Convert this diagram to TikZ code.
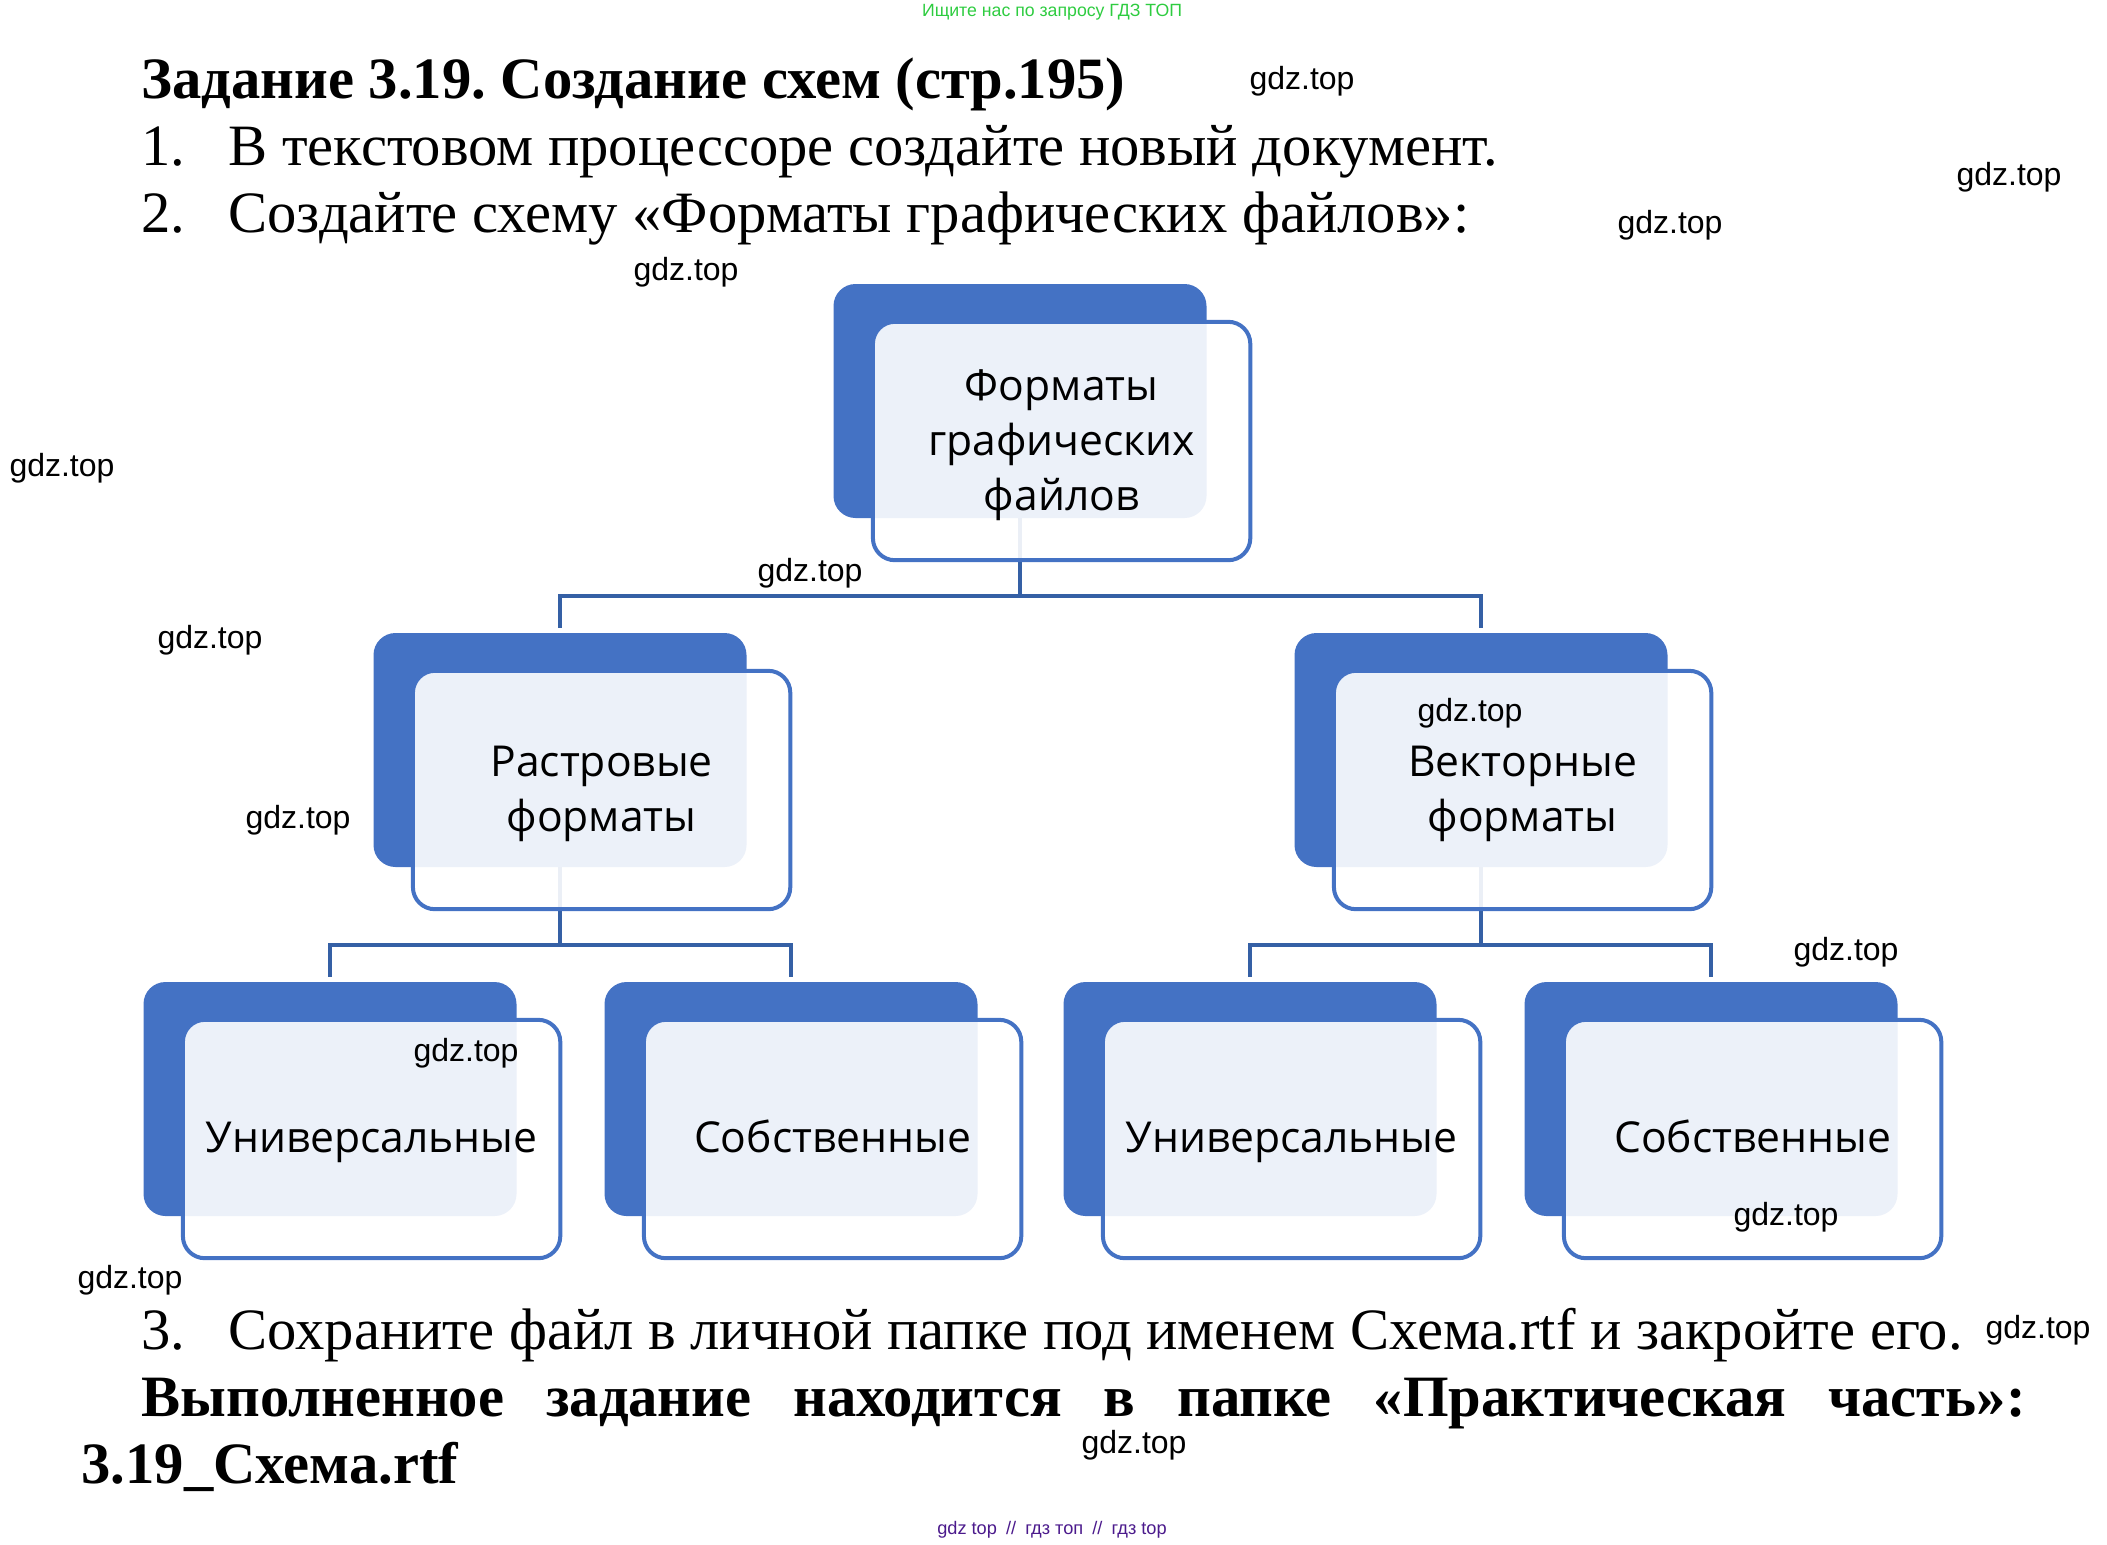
\documentclass[tikz,border=0pt]{standalone}
\usepackage{fontspec}
\setmainfont{Liberation Serif}
\newfontfamily\boxfont{Open Sans}
\newfontfamily\markfont{Liberation Sans}
\usetikzlibrary{positioning}
\definecolor{boxblue}{HTML}{4472C4}
\definecolor{linkblue}{HTML}{3560A5}
\definecolor{adgreen}{HTML}{2ECC40}
\definecolor{adviolet}{HTML}{4B1A8C}
\newcommand{\boxtopstrut}{\rule{0pt}{21.85pt}}
\newcommand{\boxendstrut}{\rule[-8.25pt]{0pt}{8.25pt}}
\newcommand{\boxfirststrut}{\rule{0pt}{19.5pt}}
\frenchspacing

\begin{document}
\begin{tikzpicture}[x=0.5pt, y=-0.5pt, semithick]
	\tikzstyle{backbox}=[fill=boxblue,rounded corners=11pt,minimum width=186.5pt,minimum height=117pt,inner sep=0pt,outer sep=0pt]
	\tikzstyle{frontbox}=[draw=boxblue,line width=2pt,fill=white,fill opacity=0.9,text opacity=1,rounded corners=11pt,minimum width=188.7pt,minimum height=119.2pt,inner sep=0pt,outer sep=0pt,xshift=20.8pt,yshift=-20pt,align=center,font=\boxfont\fontsize{21.3}{27.5}\selectfont]
	\tikzstyle{frontsingle}=[frontbox,execute at begin node=\boxtopstrut,execute at end node=\boxendstrut]
	\tikzstyle{branch}=[draw=linkblue,line width=1.8pt,to path={(\tikztostart.south) -- ++(0,78) -| ([yshift=2.5pt]\tikztotarget.north)}]
	\tikzstyle{tasktext}=[anchor=base west,inner sep=0pt,font=\fontsize{29.3}{34}\selectfont]
	\tikzstyle{taskbold}=[tasktext,font=\bfseries\fontsize{29.3}{34}\selectfont]
	\tikzstyle{gdzmark}=[inner sep=0pt,yshift=-1pt,font=\markfont\fontsize{16}{18}\selectfont]
	\useasboundingbox (0,0) rectangle (2107,1544);
	% text above the scheme
	\node[inner sep=0pt,text=adgreen,font=\markfont\fontsize{8.85}{10}\selectfont] (adtop) at (1052,12) {Ищите нас по запросу ГДЗ ТОП};
	\node[taskbold] (title) at (141,98) {Задание 3.19. Создание схем (стр.195)};
	\node[tasktext] (num1) at (141,165) {1.};
	\node[tasktext] (line1) at (228,165) {В текстовом процессоре создайте новый документ.};
	\node[tasktext] (num2) at (141,232) {2.};
	\node[tasktext] (line2) at (228,232) {Создайте схему «Форматы графических файлов»:};
	% blue boxes
	\node[backbox] (Ab) at (1020,401) {};
	\node[backbox] (Bb) at (560,750) {};
	\node[backbox] (Cb) at (1481,750) {};
	\node[backbox] (Db) at (330,1099) {};
	\node[backbox] (Eb) at (791,1099) {};
	\node[backbox] (Fb) at (1250,1099) {};
	\node[backbox] (Gb) at (1711,1099) {};
	% connectors
	\path
	(Ab) edge[branch] (Bb)
	     edge[branch] (Cb)
	(Bb) edge[branch] (Db)
	     edge[branch] (Eb)
	(Cb) edge[branch] (Fb)
	     edge[branch] (Gb);
	% outlined boxes with the labels
	\node[frontbox] (A) at (Ab) {\boxfirststrut Форматы\\графических\\файлов};
	\node[frontbox] (B) at (Bb) {\boxfirststrut Растровые\\форматы};
	\node[frontbox] (C) at (Cb) {\boxfirststrut Векторные\\форматы};
	\node[frontsingle] (D) at (Db) {Универсальные};
	\node[frontsingle] (E) at (Eb) {Собственные};
	\node[frontsingle] (F) at (Fb) {Универсальные};
	\node[frontsingle] (G) at (Gb) {Собственные};
	% text below the scheme
	\node[tasktext] (num3) at (141,1349) {3.};
	\node[tasktext] (line3) at (228,1349) {Сохраните файл в личной папке под именем Схема.rtf и закройте его.};
	\node[taskbold] (done1) at (141,1416) {\makebox[942pt][s]{Выполненное задание находится в папке «Практическая часть»:}};
	\node[taskbold] (done2) at (81,1483) {3.19\_Схема.rtf};
	\node[inner sep=0pt,text=adviolet,font=\markfont\fontsize{9.1}{10}\selectfont] (adbottom) at (1052,1530) {gdz top\enspace//\enspace гдз топ\enspace//\enspace гдз top};
	% scattered marks
	\node[gdzmark] (m1) at (1302,79) {gdz.top};
	\node[gdzmark] (m2) at (2009,175) {gdz.top};
	\node[gdzmark] (m3) at (1670,223) {gdz.top};
	\node[gdzmark] (m4) at (686,270) {gdz.top};
	\node[gdzmark] (m5) at (62,466) {gdz.top};
	\node[gdzmark] (m6) at (810,571) {gdz.top};
	\node[gdzmark] (m7) at (210,638) {gdz.top};
	\node[gdzmark] (m8) at (298,818) {gdz.top};
	\node[gdzmark] (m9) at (1470,711) {gdz.top};
	\node[gdzmark] (m10) at (1846,950) {gdz.top};
	\node[gdzmark] (m11) at (466,1051) {gdz.top};
	\node[gdzmark] (m12) at (130,1278) {gdz.top};
	\node[gdzmark] (m13) at (1786,1215) {gdz.top};
	\node[gdzmark] (m14) at (2038,1328) {gdz.top};
	\node[gdzmark] (m15) at (1134,1443) {gdz.top};
\end{tikzpicture}
\end{document}
